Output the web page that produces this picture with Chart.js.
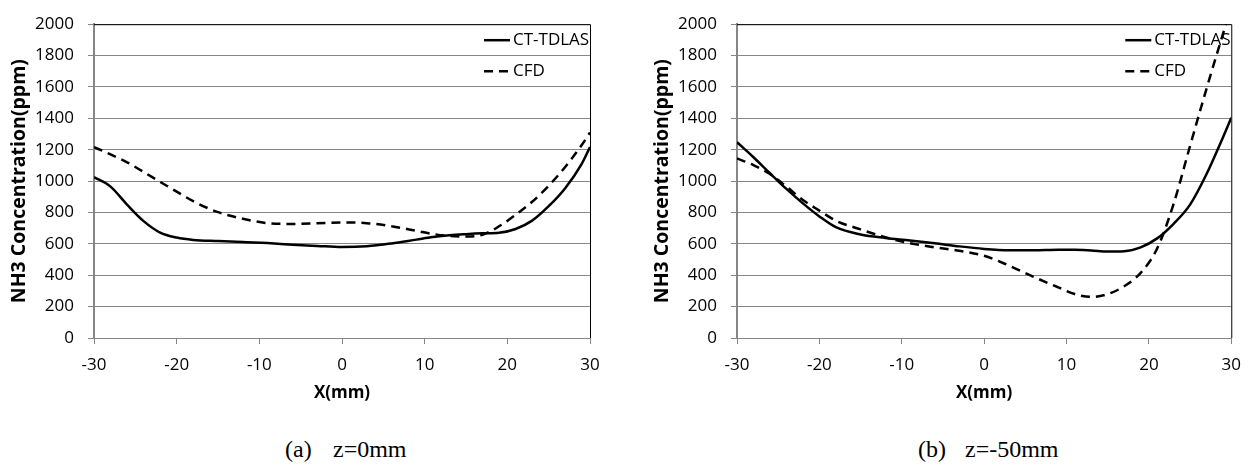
<!DOCTYPE html>
<html>
<head>
<meta charset="utf-8">
<title>NH3 concentration profiles</title>
<script src="https://cdn.jsdelivr.net/npm/chart.js@4.4.0/dist/chart.umd.min.js"></script>
<style>
  body { margin: 0; background: #fff; width: 1252px; height: 465px; position: relative; overflow: hidden; }
  .box { position: absolute; top: 0; height: 410px; }
  .cap { position: absolute; top: 435px; font-family: "Liberation Serif", "Times New Roman", serif; font-size: 24px; line-height: 28px; color: #000; white-space: pre; }
</style>
</head>
<body>
<div class="box" style="left:0;width:620px"><canvas id="chartA"></canvas></div>
<div class="box" style="left:643px;width:609px"><canvas id="chartB"></canvas></div>
<span class="cap" style="left:285px">(a)</span><span class="cap" style="left:333px">z=0mm</span>
<span class="cap" style="left:918px">(b)</span><span class="cap" style="left:965px">z=-50mm</span>

<script>
var xPos = [-30, -28, -26, -24, -22, -20, -18, -15, -12, -9, -6, -3, 0, 3, 6, 9, 11, 13, 15, 17, 19, 21, 23, 25, 27, 29, 30];

// (a) z=0mm
var ctTdlasA = [1025, 965, 850, 745, 672, 640, 625, 618, 612, 605, 595, 587, 580, 585, 603, 627, 643, 655, 662, 667, 671, 695, 748, 840, 955, 1110, 1217];
var cfdA = [1217, 1170, 1120, 1058, 995, 933, 872, 802, 760, 732, 727, 731, 736, 732, 712, 683, 663, 650, 647, 658, 712, 785, 868, 970, 1090, 1230, 1310];

// (b) z=-50mm
var ctTdlasB = [1248, 1152, 1050, 950, 858, 775, 706, 660, 638, 622, 604, 584, 568, 560, 560, 563, 562, 558, 551, 553, 578, 635, 728, 850, 1045, 1280, 1404];
var cfdB = [1144, 1102, 1045, 965, 880, 812, 748, 692, 642, 604, 578, 556, 524, 462, 390, 323, 280, 262, 280, 330, 415, 570, 855, 1225, 1590, 1940, 2110];

var seriesNames = ['CT-TDLAS', 'CFD'];
var xRange = [-30, 30], xStep = 10;
var yRange = [0, 2000], yStep = 200;

var gridGray = '#868686';
var tickFont = { family: 'Open Sans', size: 17 };
var xTitleFont = { family: 'Open Sans', size: 17, weight: 'bold' };
var yTitleFont = { family: 'Open Sans', size: 19.5, weight: 'bold' };

//top/right frame and the legend inside the plot
var frameAndLegend = {
  id: 'frameAndLegend',
  afterDatasetsDraw: function(chart) {
    var ctx = chart.ctx;
    var area = chart.chartArea;
    ctx.save();
    ctx.strokeStyle = '#000';
    ctx.lineWidth = 1;
    ctx.beginPath();
    ctx.moveTo(area.left, area.top + 0.5);
    ctx.lineTo(area.right + 0.5, area.top + 0.5);
    ctx.lineTo(area.right + 0.5, area.bottom);
    ctx.stroke();

    chart.data.datasets.forEach(function(ds, i) {
      var y = area.top + 16 + i * 31;
      ctx.setLineDash(ds.borderDash || []);
      ctx.lineWidth = ds.borderWidth;
      ctx.beginPath();
      ctx.moveTo(area.right - 106, y);
      ctx.lineTo(area.right - 80, y);
      ctx.stroke();
      ctx.setLineDash([]);
      ctx.fillStyle = '#000';
      ctx.font = '17px "Open Sans"';
      ctx.textBaseline = 'middle';
      ctx.textAlign = 'left';
      ctx.fillText(ds.label, area.right - 77, y);
    });
    ctx.restore();
  }
};

function toPoints(xs, ys) {
  var pts = [];
  for (var i = 0; i < xs.length; i++) {
    pts.push({ x: xs[i], y: ys[i] });
  }
  return pts;
}

function plainNumber(value) {
  return String(value);
}

function makeChart(id, ctVals, cfdVals, padRight) {
  return new Chart(document.getElementById(id), {
    type: 'line',
    data: {
      datasets: [{
          label: seriesNames[0],
          data: toPoints(xPos, ctVals),
          borderColor: '#000',
          borderWidth: 2.5,
          pointRadius: 0,
          cubicInterpolationMode: 'monotone',
          fill: false
        },
        {
          label: seriesNames[1],
          data: toPoints(xPos, cfdVals),
          borderColor: '#000',
          borderWidth: 2.5,
          borderDash: [9, 6],
          pointRadius: 0,
          cubicInterpolationMode: 'monotone',
          fill: false
        }
      ]
    },
    options: {
      responsive: true,
      maintainAspectRatio: false,
      animation: false,
      layout: { padding: { top: 18, left: 4, right: padRight, bottom: 3 } },
      plugins: {
        legend: { display: false },
        tooltip: { enabled: false }
      },
      scales: {
        x: {
          type: 'linear',
          min: xRange[0],
          max: xRange[1],
          ticks: { stepSize: xStep, font: tickFont, color: '#000', padding: 11, callback: plainNumber },
          grid: { drawOnChartArea: false, drawTicks: true, tickLength: 6, color: gridGray },
          border: { color: gridGray, width: 1 },
          title: { display: true, text: 'X(mm)', font: xTitleFont, color: '#000' },
          afterFit: function(scale) { scale.height = 69; }
        },
        y: {
          min: yRange[0],
          max: yRange[1],
          ticks: { stepSize: yStep, font: tickFont, color: '#000', padding: 14, callback: plainNumber },
          grid: { color: gridGray, tickLength: 6 },
          border: { color: gridGray, width: 2 },
          title: { display: true, text: 'NH3 Concentration(ppm)', font: yTitleFont, color: '#000' },
          afterFit: function(scale) { scale.width = 90; }
        }
      }
    },
    plugins: [frameAndLegend]
  });
}

makeChart('chartA', ctTdlasA, cfdA, 30);
makeChart('chartB', ctTdlasB, cfdB, 19);
</script>
</body>
</html>
